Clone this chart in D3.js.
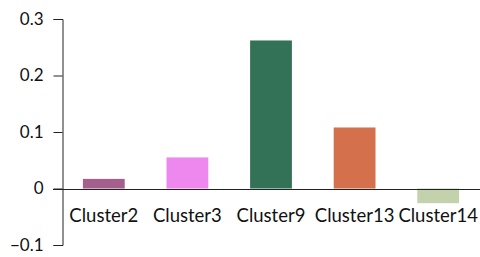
<!DOCTYPE html>
<html lang="en">
<head>
<meta charset="UTF-8">
<title>Cluster bars</title>
<script src="https://d3js.org/d3.v7.min.js"></script>
<style>
    body { margin: 0; background: #fff; }
    text { font-family: Lato, "Open Sans", sans-serif; fill: #111; }
</style>
</head>
<body>
<svg width="480" height="257"></svg>
<script>
const clusters = ["Cluster2", "Cluster3", "Cluster9", "Cluster13", "Cluster14"];
const values = [0.017, 0.055, 0.262, 0.108, -0.026];
const barColors = ["#a45f8c", "#ee88ee", "#337257", "#d5704c", "#c3d1ad"];
const yTicks = [-0.1, 0, 0.1, 0.2, 0.3];

const svg = d3.select("svg");
const plotLeft = 62, plotRight = 480, plotTop = 19, plotBottom = 245;

let y = d3.scaleLinear().domain([-0.1, 0.3]).range([plotBottom, plotTop]);
let x = d3.scaleBand().domain(clusters).range([plotLeft, plotRight])
    .paddingInner(0.5).paddingOuter(0.25);

// bars
svg.append("g").selectAll("rect")
    .data(clusters)
    .join("rect")
    .attr("x", d => x(d))
    .attr("width", x.bandwidth())
    .attr("y", (d, i) => Math.min(y(values[i]), y(0)))
    .attr("height", (d, i) => Math.abs(y(values[i]) - y(0)))
    .attr("fill", (d, i) => barColors[i]);

// y axis
let yAxis = svg.append("g")
    .attr("transform", `translate(${plotLeft + 0.5},0)`)
    .call(d3.axisLeft(y).tickValues(yTicks).tickSize(9).tickPadding(10)
        .tickFormat(d => d === 0 ? "0" : d3.format(".1f")(d)));
yAxis.select(".domain").attr("stroke", "#222");
yAxis.selectAll(".tick line").attr("stroke", "#222");
yAxis.selectAll("text").style("font-size", "17px").attr("fill", "#111");

// zero line
svg.append("line")
    .attr("x1", plotLeft - 9).attr("x2", plotRight)
    .attr("y1", Math.round(y(0)) + 0.5).attr("y2", Math.round(y(0)) + 0.5)
    .attr("stroke", "#222");

// category labels
svg.append("g").selectAll("text")
    .data(clusters)
    .join("text")
    .attr("x", d => x(d) + x.bandwidth() / 2)
    .attr("y", 222)
    .attr("text-anchor", "middle")
    .style("font-size", "18.5px")
    .text(d => d);
</script>
</body>
</html>
